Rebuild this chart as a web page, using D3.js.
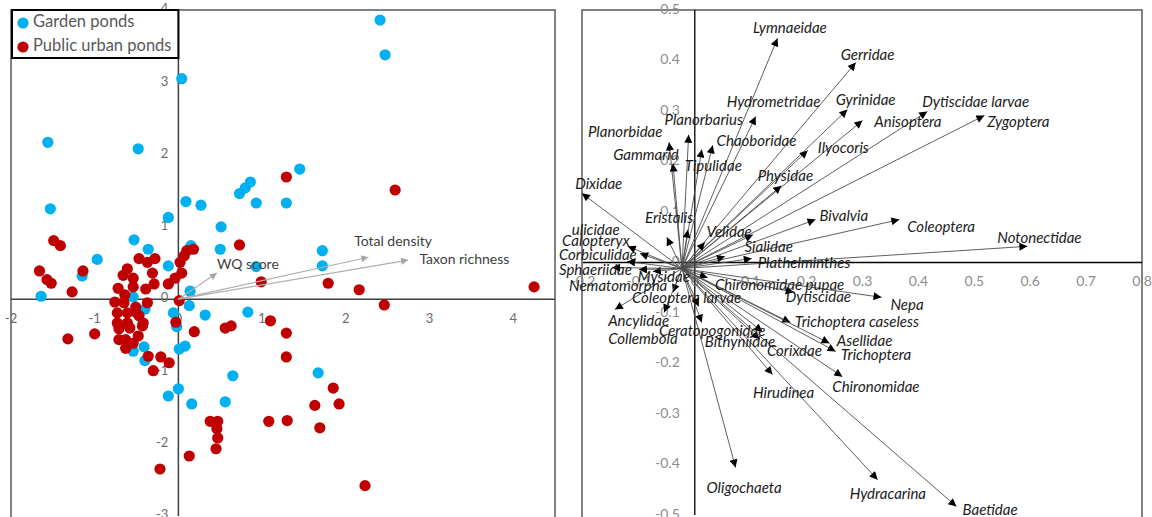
<!DOCTYPE html>
<html>
<head>
<meta charset="utf-8">
<script src="https://cdn.jsdelivr.net/npm/d3@7/dist/d3.min.js"></script>
<style>
  body { margin: 0; background: #fff; }
  text { font-family: Lato, "Open Sans", sans-serif; }
</style>
</head>
<body>
<svg id="chart" width="1152" height="517"></svg>
<script>
// ---- left panel: site scores ----
const gardenPonds = [
  [2.41, 3.86], [2.47, 3.38], [0.04, 3.05], [-1.56, 2.17], [-0.48, 2.08], [1.45, 1.80],
  [1.29, 1.33], [1.72, 0.67], [1.72, 0.46], [1.67, -1.02], [-1.53, 1.25], [0.09, 1.35],
  [0.27, 1.30], [0.73, 1.46], [0.80, 1.54], [0.86, 1.62], [0.93, 1.33], [-0.12, 1.13],
  [0.51, 1.00], [-0.53, 0.82], [-0.36, 0.69], [0.15, 0.74], [0.50, 0.69], [-0.97, 0.55],
  [-0.12, 0.46], [0.93, 0.45], [-1.15, 0.32], [-1.64, 0.04], [0.14, 0.11], [0.13, -0.09],
  [0.32, -0.22], [0.83, -0.18], [-0.06, -0.19], [-0.02, -0.38], [-0.41, -0.66], [-0.54, -0.72],
  [-0.40, -0.85], [0.01, -0.69], [0.08, -0.65], [0.65, -1.06], [0.00, -1.24], [-0.12, -1.34],
  [0.16, -1.45], [0.56, -1.42], [-0.54, 0.03], [-0.40, -0.14]
];
const publicPonds = [
  [1.29, 1.69], [2.59, 1.51], [0.73, 0.75], [0.99, 0.24], [1.79, 0.22], [2.16, 0.13],
  [4.25, 0.17], [2.46, -0.08], [1.29, -0.47], [1.29, -0.80], [1.10, -0.30], [0.63, -0.37],
  [0.56, -0.40], [0.19, -0.45], [-0.03, -0.32], [0.01, -0.02], [0.18, 0.69], [0.10, 0.67],
  [0.07, 0.60], [0.02, 0.51], [0.04, 0.36], [-0.04, 0.29], [-0.12, 0.21], [-0.28, 0.56],
  [-0.37, 0.51], [-0.47, 0.56], [-0.31, 0.36], [-0.61, 0.42], [-0.66, 0.33], [-0.54, 0.29],
  [-0.54, 0.17], [-0.29, 0.21], [-0.39, 0.14], [-0.72, 0.15], [-1.49, 0.81], [-1.41, 0.74],
  [-1.66, 0.39], [-1.57, 0.27], [-1.52, 0.22], [-1.14, 0.39], [-1.27, 0.10], [-0.76, -0.04],
  [-0.64, 0.06], [-0.65, -0.05], [-0.51, -0.11], [-0.37, -0.05], [-0.73, -0.19], [-0.61, -0.19],
  [-0.51, -0.18], [-0.47, -0.23], [-0.73, -0.33], [-0.61, -0.33], [-0.42, -0.33], [-0.71, -0.41],
  [-0.58, -0.40], [-0.43, -0.37], [-1.00, -0.48], [-1.32, -0.55], [-0.71, -0.56], [-0.63, -0.56],
  [-0.48, -0.51], [-0.54, -0.61], [-0.63, -0.68], [-0.36, -0.79], [-0.21, -0.80], [-0.11, -0.88],
  [-0.30, -0.99], [0.38, -1.69], [0.47, -1.69], [0.46, -1.79], [0.47, -1.92], [0.45, -2.07],
  [0.13, -2.17], [-0.22, -2.35], [1.08, -1.69], [1.30, -1.68], [1.85, -1.23], [1.63, -1.47],
  [1.92, -1.45], [1.69, -1.78], [2.23, -2.58]
];
const envNames = ["WQ score", "Total density", "Taxon richness"];
const envTips = [[0.46, 0.36], [2.27, 0.58], [2.745, 0.54]];
const envLabelPos = [[0.46, 0.47], [2.10, 0.79], [2.88, 0.53]];
const leftXTicks = [-2, -1, 0, 1, 2, 3, 4];
const leftYTicks = [-3, -2, -1, 0, 1, 2, 3, 4];

// ---- right panel: taxa loadings ----
const taxa = [
  "Lymnaeidae", "Gerridae", "Gyrinidae", "Anisoptera", "Dytiscidae larvae", "Zygoptera",
  "Ilyocoris", "Hydrometridae", "Planorbarius", "Planorbidae", "Chaoboridae", "Tipulidae",
  "Gammarid", "Physidae", "Dixidae", "Eristalis", "", "Bivalvia", "Coleoptera", "Notonectidae",
  "Velidae", "", "Sialidae", "Plathelminthes", "ulicidae", "Calopteryx", "Corbiculidae",
  "Sphaeriidae", "Mysidae", "Nematomorpha", "Coleoptera larvae", "Ancylidae", "Collembola",
  "Ceratopogonidae", "", "Bithyniidae", "Chironomidae pupae", "Dytiscidae", "Nepa",
  "Trichoptera caseless", "Asellidae", "Trichoptera", "Corixdae", "Hirudinea", "Chironomidae",
  "Hydracarina", "Baetidae", "Oligochaeta"
];
const taxaTips = [
  [0.148, 0.444], [0.288, 0.396], [0.273, 0.303], [0.300, 0.281], [0.416, 0.299], [0.518, 0.291],
  [0.202, 0.222], [0.109, 0.289], [-0.011, 0.253], [-0.046, 0.238], [0.032, 0.232], [0.0125, 0.224],
  [-0.039, 0.196], [0.155, 0.152], [-0.202, 0.137], [-0.0125, 0.065], [-0.05, 0.050], [0.216, 0.085],
  [0.366, 0.085], [0.595, 0.032], [0.104, 0.055], [0.018, 0.040], [0.054, 0.012], [0.102, 0.008],
  [-0.120, 0.032], [-0.098, 0.018], [-0.121, 0.002], [-0.148, -0.010], [-0.075, -0.018], [-0.100, -0.014],
  [-0.039, -0.059], [-0.143, -0.093], [-0.055, -0.099], [0.0125, -0.119], [0.007, -0.087], [0.121, -0.137],
  [0.023, -0.030], [0.177, -0.059], [0.334, -0.069], [0.171, -0.119], [0.241, -0.160], [0.252, -0.176],
  [0.116, -0.152], [0.139, -0.222], [0.264, -0.226], [0.327, -0.430], [0.468, -0.483], [0.073, -0.406]
];
const taxaLabelPos = [
  [0.104, 0.461], [0.261, 0.408], [0.252, 0.319], [0.321, 0.275], [0.407, 0.315], [0.523, 0.275],
  [0.220, 0.224], [0.057, 0.315], [-0.054, 0.279], [-0.191, 0.257], [0.039, 0.238], [-0.018, 0.188],
  [-0.146, 0.210], [0.1125, 0.168], [-0.214, 0.154], [-0.089, 0.085], [0, 0], [0.223, 0.089],
  [0.380, 0.067], [0.541, 0.046], [0.021, 0.059], [0, 0], [0.089, 0.028], [0.1125, -0.004],
  [-0.220, 0.061], [-0.2375, 0.040], [-0.243, 0.012], [-0.243, -0.018], [-0.102, -0.032], [-0.225, -0.048],
  [-0.1125, -0.073], [-0.155, -0.119], [-0.155, -0.154], [-0.064, -0.139], [0, 0], [0.018, -0.160],
  [0.036, -0.046], [0.1625, -0.071], [0.350, -0.087], [0.179, -0.121], [0.254, -0.158], [0.261, -0.186],
  [0.129, -0.178], [0.104, -0.261], [0.246, -0.249], [0.277, -0.461], [0.479, -0.493], [0.021, -0.448]
];
const taxaOrigin = [-0.023, -0.012];
const rightXTicks = [-0.2, -0.1, 0, 0.1, 0.2, 0.3, 0.4, 0.5, 0.6, 0.7, 0.8];
const rightYTicks = [-0.5, -0.4, -0.3, -0.2, -0.1, 0, 0.1, 0.2, 0.3, 0.4, 0.5];

// plain hyphen like the spreadsheet labels
const fmt1 = d => (d === 0 ? "0" : d.toFixed(1));

const svg = d3.select("#chart");

const defs = svg.append("defs");
defs.append("marker")
  .attr("id", "grayHead")
  .attr("viewBox", "0 0 10 10")
  .attr("refX", 10).attr("refY", 5)
  .attr("markerWidth", 9).attr("markerHeight", 7)
  .attr("markerUnits", "userSpaceOnUse")
  .attr("orient", "auto")
  .append("path").attr("d", "M0,0L10,5L0,10Z").attr("fill", "#a6a6a6");
defs.append("marker")
  .attr("id", "blackHead")
  .attr("viewBox", "0 0 10 10")
  .attr("refX", 10).attr("refY", 5)
  .attr("markerWidth", 10).attr("markerHeight", 8)
  .attr("markerUnits", "userSpaceOnUse")
  .attr("orient", "auto")
  .append("path").attr("d", "M0,0L10,5L0,10Z").attr("fill", "#000");

// ================= LEFT PANEL =================
const xL = d3.scaleLinear().domain([-2, 4.5]).range([11, 555]);
const yL = d3.scaleLinear().domain([-3, 4]).range([516, 10]);
const left = svg.append("g");

left.append("rect")
  .attr("x", 11).attr("y", 10)
  .attr("width", xL(4.5) - 11).attr("height", 520)
  .attr("fill", "none").attr("stroke", "#595959").attr("stroke-width", 1.5);

left.append("line")
  .attr("x1", xL(-2)).attr("x2", xL(4.5)).attr("y1", yL(0)).attr("y2", yL(0))
  .attr("stroke", "#404040").attr("stroke-width", 1.5);
left.append("line")
  .attr("x1", xL(0)).attr("x2", xL(0)).attr("y1", yL(4)).attr("y2", yL(-3))
  .attr("stroke", "#404040").attr("stroke-width", 1.5);

left.selectAll(".xt").data(leftXTicks).join("text")
  .attr("x", d => xL(d)).attr("y", yL(0) + 21)
  .attr("text-anchor", "middle").attr("dominant-baseline", "middle")
  .attr("font-size", 13).attr("fill", "#6b6b6b")
  .text(d => String(d));
left.selectAll(".yt").data(leftYTicks).join("text")
  .attr("x", xL(0) - 10).attr("y", d => yL(d))
  .attr("text-anchor", "end").attr("dominant-baseline", "middle")
  .attr("font-size", 13).attr("fill", "#6b6b6b")
  .text(d => String(d));

left.selectAll(".garden").data(gardenPonds).join("circle")
  .attr("cx", d => xL(d[0])).attr("cy", d => yL(d[1])).attr("r", 5.6)
  .attr("fill", "#00b0f0");
left.selectAll(".public").data(publicPonds).join("circle")
  .attr("cx", d => xL(d[0])).attr("cy", d => yL(d[1])).attr("r", 5.6)
  .attr("fill", "#c00000");

left.selectAll(".env").data(envTips).join("line")
  .attr("x1", xL(0)).attr("y1", yL(0))
  .attr("x2", d => xL(d[0])).attr("y2", d => yL(d[1]))
  .attr("stroke", "#b0b0b0").attr("stroke-width", 1.2)
  .attr("marker-end", "url(#grayHead)");
left.selectAll(".envlab").data(envNames).join("text")
  .attr("x", (d, i) => xL(envLabelPos[i][0])).attr("y", (d, i) => yL(envLabelPos[i][1]))
  .attr("dominant-baseline", "middle")
  .attr("font-size", 14).attr("fill", "#404040")
  .text(d => d);

// legend
const legend = left.append("g");
legend.append("rect")
  .attr("x", 12).attr("y", 10).attr("width", xL(0) - 12).attr("height", 48)
  .attr("fill", "#fff").attr("stroke", "#000").attr("stroke-width", 2);
const legendItems = [["Garden ponds", "#00b0f0"], ["Public urban ponds", "#c00000"]];
legendItems.forEach((it, i) => {
  legend.append("circle").attr("cx", 23).attr("cy", 23 + i * 24).attr("r", 5.6).attr("fill", it[1]);
  legend.append("text").attr("x", 33).attr("y", 23 + i * 24)
    .attr("dominant-baseline", "middle").attr("font-size", 16.5).attr("fill", "#595959")
    .text(it[0]);
});

// ================= RIGHT PANEL =================
const xR = d3.scaleLinear().domain([-0.2, 0.8]).range([583, 1142]);
const yR = d3.scaleLinear().domain([-0.5, 0.5]).range([515, 10]);
const right = svg.append("g");

right.append("rect")
  .attr("x", 582).attr("y", 10)
  .attr("width", 1142 - 582).attr("height", 520)
  .attr("fill", "none").attr("stroke", "#595959").attr("stroke-width", 1.5);
right.append("line")
  .attr("x1", xR(-0.2)).attr("x2", xR(0.8)).attr("y1", yR(0)).attr("y2", yR(0))
  .attr("stroke", "#000").attr("stroke-width", 1.3);
right.append("line")
  .attr("x1", xR(0)).attr("x2", xR(0)).attr("y1", yR(0.5)).attr("y2", yR(-0.5))
  .attr("stroke", "#000").attr("stroke-width", 1.3);

right.selectAll(".xt").data(rightXTicks).join("text")
  .attr("x", d => xR(d)).attr("y", yR(0) + 20)
  .attr("text-anchor", "middle").attr("dominant-baseline", "middle")
  .attr("font-size", 14).attr("fill", "#8c8c8c")
  .text(fmt1);
right.selectAll(".yt").data(rightYTicks).join("text")
  .attr("x", xR(0) - 15).attr("y", d => yR(d))
  .attr("text-anchor", "end").attr("dominant-baseline", "middle")
  .attr("font-size", 14).attr("fill", "#8c8c8c")
  .text(fmt1);

right.selectAll(".taxon").data(taxaTips).join("line")
  .attr("x1", xR(taxaOrigin[0])).attr("y1", yR(taxaOrigin[1]))
  .attr("x2", d => xR(d[0])).attr("y2", d => yR(d[1]))
  .attr("stroke", "#4d4d4d").attr("stroke-width", 0.9)
  .attr("marker-end", "url(#blackHead)");

right.selectAll(".taxlab").data(taxa).join("text")
  .attr("x", (d, i) => xR(taxaLabelPos[i][0])).attr("y", (d, i) => yR(taxaLabelPos[i][1]))
  .attr("dominant-baseline", "middle")
  .attr("font-size", 15).attr("font-style", "italic").attr("fill", "#1a1a1a")
  .text(d => d);
</script>
</body>
</html>
